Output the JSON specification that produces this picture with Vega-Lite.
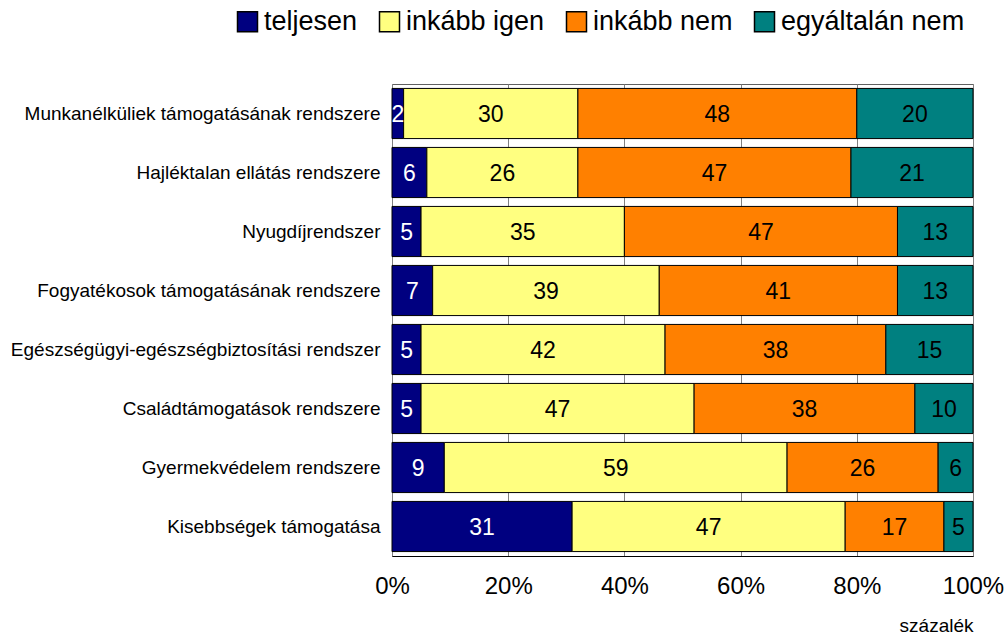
{
  "$schema": "https://vega.github.io/schema/vega-lite/v6.json",
  "width": 581,
  "height": 472,
  "autosize": "none",
  "padding": {"left": 392, "top": 84, "right": 33, "bottom": 88},
  "background": "white",
  "config": {
    "font": "Liberation Sans",
    "view": {"stroke": "#606060", "strokeWidth": 1}
  },
  "data": {
    "values": [
      {"item": "Munkanélküliek támogatásának rendszere", "answer": "teljesen", "k": 1, "value": 2},
      {"item": "Munkanélküliek támogatásának rendszere", "answer": "inkább igen", "k": 2, "value": 30},
      {"item": "Munkanélküliek támogatásának rendszere", "answer": "inkább nem", "k": 3, "value": 48},
      {"item": "Munkanélküliek támogatásának rendszere", "answer": "egyáltalán nem", "k": 4, "value": 20},
      {"item": "Hajléktalan ellátás rendszere", "answer": "teljesen", "k": 1, "value": 6},
      {"item": "Hajléktalan ellátás rendszere", "answer": "inkább igen", "k": 2, "value": 26},
      {"item": "Hajléktalan ellátás rendszere", "answer": "inkább nem", "k": 3, "value": 47},
      {"item": "Hajléktalan ellátás rendszere", "answer": "egyáltalán nem", "k": 4, "value": 21},
      {"item": "Nyugdíjrendszer", "answer": "teljesen", "k": 1, "value": 5},
      {"item": "Nyugdíjrendszer", "answer": "inkább igen", "k": 2, "value": 35},
      {"item": "Nyugdíjrendszer", "answer": "inkább nem", "k": 3, "value": 47},
      {"item": "Nyugdíjrendszer", "answer": "egyáltalán nem", "k": 4, "value": 13},
      {"item": "Fogyatékosok támogatásának rendszere", "answer": "teljesen", "k": 1, "value": 7},
      {"item": "Fogyatékosok támogatásának rendszere", "answer": "inkább igen", "k": 2, "value": 39},
      {"item": "Fogyatékosok támogatásának rendszere", "answer": "inkább nem", "k": 3, "value": 41},
      {"item": "Fogyatékosok támogatásának rendszere", "answer": "egyáltalán nem", "k": 4, "value": 13},
      {"item": "Egészségügyi-egészségbiztosítási rendszer", "answer": "teljesen", "k": 1, "value": 5},
      {"item": "Egészségügyi-egészségbiztosítási rendszer", "answer": "inkább igen", "k": 2, "value": 42},
      {"item": "Egészségügyi-egészségbiztosítási rendszer", "answer": "inkább nem", "k": 3, "value": 38},
      {"item": "Egészségügyi-egészségbiztosítási rendszer", "answer": "egyáltalán nem", "k": 4, "value": 15},
      {"item": "Családtámogatások rendszere", "answer": "teljesen", "k": 1, "value": 5},
      {"item": "Családtámogatások rendszere", "answer": "inkább igen", "k": 2, "value": 47},
      {"item": "Családtámogatások rendszere", "answer": "inkább nem", "k": 3, "value": 38},
      {"item": "Családtámogatások rendszere", "answer": "egyáltalán nem", "k": 4, "value": 10},
      {"item": "Gyermekvédelem rendszere", "answer": "teljesen", "k": 1, "value": 9},
      {"item": "Gyermekvédelem rendszere", "answer": "inkább igen", "k": 2, "value": 59},
      {"item": "Gyermekvédelem rendszere", "answer": "inkább nem", "k": 3, "value": 26},
      {"item": "Gyermekvédelem rendszere", "answer": "egyáltalán nem", "k": 4, "value": 6},
      {"item": "Kisebbségek támogatása", "answer": "teljesen", "k": 1, "value": 31},
      {"item": "Kisebbségek támogatása", "answer": "inkább igen", "k": 2, "value": 47},
      {"item": "Kisebbségek támogatása", "answer": "inkább nem", "k": 3, "value": 17},
      {"item": "Kisebbségek támogatása", "answer": "egyáltalán nem", "k": 4, "value": 5}
    ]
  },
  "transform": [
    {"stack": "value", "groupby": ["item"], "sort": [{"field": "k"}], "offset": "normalize", "as": ["v0", "v1"]},
    {"calculate": "(datum.v0 + datum.v1) / 2", "as": "mid"}
  ],
  "encoding": {
    "y": {
      "field": "item",
      "type": "nominal",
      "sort": null,
      "title": null,
      "scale": {"paddingInner": 0.15, "paddingOuter": 0.075},
      "axis": {"domain": false, "ticks": false, "labelFontSize": 19, "labelColor": "black", "labelPadding": 12, "labelLimit": 0}
    }
  },
  "layer": [
    {
      "mark": {"type": "bar", "stroke": "black", "strokeWidth": 1},
      "encoding": {
        "x": {
          "field": "v0",
          "type": "quantitative",
          "scale": {"domain": [0, 1], "nice": false},
          "axis": {
            "values": [0, 0.2, 0.4, 0.6, 0.8, 1],
            "format": "%",
            "grid": true,
            "gridColor": "#808080",
            "gridWidth": 1,
            "domainColor": "black",
            "ticks": false,
            "labelFlush": false,
            "labelFontSize": 24,
            "labelColor": "black",
            "labelPadding": 18,
            "title": "százalék",
            "titleFontSize": 19,
            "titleFontWeight": "normal",
            "titleColor": "black",
            "titleAnchor": "end",
            "titleAlign": "right",
            "titlePadding": 18
          }
        },
        "x2": {"field": "v1"},
        "color": {
          "field": "answer",
          "type": "nominal",
          "scale": {
            "domain": ["teljesen", "inkább igen", "inkább nem", "egyáltalán nem"],
            "range": ["#000080", "#FFFF80", "#FF8000", "#008080"]
          },
          "legend": {
            "title": null,
            "orient": "none",
            "legendX": -158,
            "legendY": -76,
            "direction": "horizontal",
            "columns": 4,
            "symbolType": "square",
            "symbolSize": 400,
            "symbolStrokeColor": "black",
            "symbolStrokeWidth": 1.5,
            "symbolOpacity": 1,
            "labelFontSize": 27,
            "labelLimit": 0,
            "labelColor": "black",
            "labelOffset": 3,
            "columnPadding": 18
          }
        }
      }
    },
    {
      "mark": {"type": "text", "fontSize": 23, "baseline": "middle", "align": "center", "dy": 1},
      "encoding": {
        "x": {"field": "mid", "type": "quantitative"},
        "text": {"field": "value", "type": "quantitative"},
        "color": {"condition": {"test": "datum.k == 1", "value": "white"}, "value": "black"}
      }
    }
  ]
}
